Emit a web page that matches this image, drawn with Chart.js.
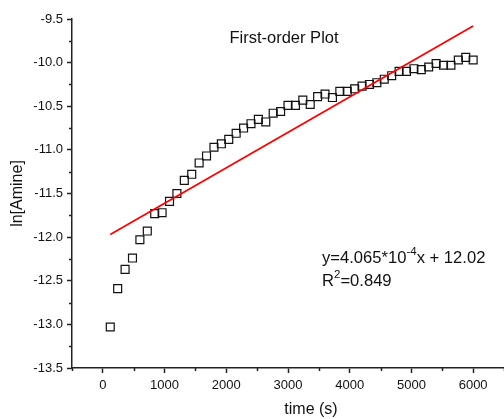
<!DOCTYPE html>
<html>
<head>
<meta charset="utf-8">
<script src="https://cdn.jsdelivr.net/npm/chart.js@4"></script>
<style>
  html, body { margin: 0; padding: 0; background: #fff; }
  canvas { display: block; }
</style>
</head>
<body>
<canvas id="myChart" width="504" height="419"></canvas>
<script>
const fontFamily = 'Arial, "Liberation Sans", sans-serif';
const axisColor = '#222';

// measured points: time (s) and ln[Amine]
const times = [120, 240, 360, 480, 600, 720, 840, 960, 1080, 1200,
  1320, 1440, 1560, 1680, 1800, 1920, 2040, 2160, 2280, 2400,
  2520, 2640, 2760, 2880, 3000, 3120, 3240, 3360, 3480, 3600,
  3720, 3840, 3960, 4080, 4200, 4320, 4440, 4560, 4680, 4800,
  4920, 5040, 5160, 5280, 5400, 5520, 5640, 5760, 5880, 6000];
const lnAmine = [-13.03, -12.59, -12.37, -12.24, -12.03, -11.93, -11.73, -11.72, -11.59, -11.50,
  -11.35, -11.28, -11.15, -11.07, -10.97, -10.93, -10.88, -10.81, -10.75, -10.70,
  -10.65, -10.68, -10.58, -10.56, -10.49, -10.49, -10.43, -10.48, -10.39, -10.36,
  -10.40, -10.33, -10.33, -10.30, -10.27, -10.25, -10.23, -10.19, -10.15, -10.10,
  -10.10, -10.07, -10.08, -10.05, -10.01, -10.03, -10.03, -9.97, -9.94, -9.97];

// linear fit end points
const fitTimes = [120, 6000];
const fitValues = [-11.97, -9.58];

const chartTitle = 'First-order Plot';
const xTitle = 'time (s)';
const yTitle = 'ln[Amine]';

const isMajorX = v => v % 1000 === 0;
const isMajorY = v => Math.abs(v * 2 - Math.round(v * 2)) < 1e-6;

const overlayPlugin = {
  id: 'overlay',
  afterDraw(chart) {
    const ctx = chart.ctx;
    const area = chart.chartArea;
    const xs = chart.scales.x;
    const ys = chart.scales.y;
    ctx.save();
    // minor ticks
    ctx.strokeStyle = axisColor;
    ctx.lineWidth = 1.5;
    ctx.beginPath();
    xs.ticks.forEach(t => {
      if (isMajorX(t.value)) return;
      const px = Math.round(xs.getPixelForValue(t.value)) + 0.5;
      ctx.moveTo(px, area.bottom);
      ctx.lineTo(px, area.bottom + 3);
    });
    ys.ticks.forEach(t => {
      if (isMajorY(t.value)) return;
      const py = Math.round(ys.getPixelForValue(t.value)) + 0.5;
      ctx.moveTo(area.left, py);
      ctx.lineTo(area.left - 3, py);
    });
    ctx.stroke();

    ctx.fillStyle = '#111';
    ctx.textBaseline = 'middle';

    // title
    ctx.font = '16.5px ' + fontFamily;
    ctx.textAlign = 'center';
    ctx.fillText(chartTitle, 284, 38);

    // x title
    ctx.font = '16px ' + fontFamily;
    ctx.fillText(xTitle, 311, 410);

    // y title
    ctx.save();
    ctx.translate(18, (area.top + area.bottom) / 2);
    ctx.rotate(-Math.PI / 2);
    ctx.fillText(yTitle, 0, 0);
    ctx.restore();

    // equation with superscripts
    const drawParts = (parts, x, y) => {
      ctx.textAlign = 'left';
      parts.forEach(p => {
        ctx.font = (p.sup ? '11.5px ' : '16.6px ') + fontFamily;
        ctx.fillText(p.text, x, p.sup ? y - 6 : y);
        x += ctx.measureText(p.text).width;
      });
    };
    drawParts([{text: 'y=4.065*10'}, {text: '-4', sup: true}, {text: 'x + 12.02'}], 322, 258);
    drawParts([{text: 'R'}, {text: '2', sup: true}, {text: '=0.849'}], 322, 281);
    ctx.restore();
  }
};

const datasets = [];
datasets.push({
  label: 'ln[Amine]',
  data: times.map((t, i) => ({x: t, y: lnAmine[i]})),
  showLine: false,
  pointStyle: 'rect',
  pointRadius: 5.6,
  pointHoverRadius: 5.6,
  borderColor: '#111',
  borderWidth: 1.2,
  backgroundColor: 'rgba(255,255,255,0)',
  order: 2,
});
datasets.push({
  label: 'fit',
  data: fitTimes.map((t, i) => ({x: t, y: fitValues[i]})),
  showLine: true,
  pointRadius: 0,
  borderColor: '#ff0000',
  borderWidth: 1.8,
  fill: false,
  order: 1,
});

const config = {
  type: 'scatter',
  data: { datasets },
  options: {
    responsive: false,
    animation: false,
    layout: { autoPadding: false, padding: { top: 19, right: 0, left: 0, bottom: 0 } },
    plugins: {
      legend: { display: false },
      tooltip: { enabled: false },
    },
    scales: {
      x: {
        type: 'linear',
        min: -500,
        max: 6500,
        afterFit(scale) {
          scale.height = 51;
          scale.paddingLeft = 0;
          scale.paddingRight = 0;
        },
        border: { color: axisColor, width: 1.5 },
        grid: {
          drawOnChartArea: false,
          tickLength: 5,
          tickWidth: 1.5,
          tickColor: c => (c.tick && isMajorX(c.tick.value)) ? axisColor : 'rgba(0,0,0,0)',
        },
        ticks: {
          stepSize: 500,
          padding: 5,
          color: '#111',
          font: { family: fontFamily, size: 13 },
          maxRotation: 0,
          autoSkip: false,
          callback: v => isMajorX(v) ? String(v) : '',
        },
      },
      y: {
        type: 'linear',
        min: -13.5,
        max: -9.5,
        afterFit(scale) {
          scale.width = 72;
          scale.paddingTop = 0;
          scale.paddingBottom = 0;
        },
        border: { color: axisColor, width: 1.5 },
        grid: {
          drawOnChartArea: false,
          tickLength: 5,
          tickWidth: 1.5,
          tickColor: c => (c.tick && isMajorY(c.tick.value)) ? axisColor : 'rgba(0,0,0,0)',
        },
        ticks: {
          stepSize: 0.25,
          padding: 4,
          color: '#111',
          font: { family: fontFamily, size: 13 },
          autoSkip: false,
          callback: v => isMajorY(v) ? v.toFixed(1) : '',
        },
      },
    },
  },
  plugins: [overlayPlugin],
};

const ctx = document.getElementById('myChart').getContext('2d');
const myChart = new Chart(ctx, config);
</script>
</body>
</html>
